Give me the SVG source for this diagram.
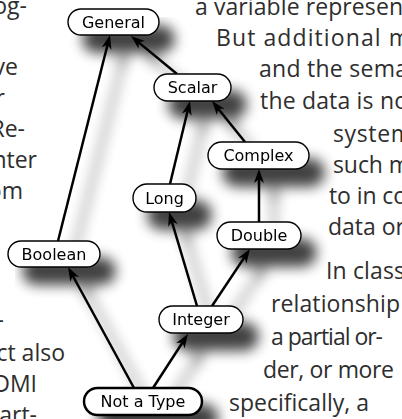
<svg xmlns="http://www.w3.org/2000/svg" width="402" height="419" viewBox="0 0 402 419">
  <defs>
    <style>
      .body { font-family: "Open Sans", "Noto Sans", sans-serif; font-size: 23px; fill: #2e2e2e; }
      .node rect { fill: #fff; stroke: #000; stroke-width: 1.4; }
      .node text { font-family: "DejaVu Sans", sans-serif; font-size: 16px; fill: #000; text-anchor: middle; }
      .edge { stroke: #000; stroke-width: 2.5; fill: none; marker-end: url(#arrow); }
    </style>
    <marker id="arrow" markerUnits="userSpaceOnUse" markerWidth="20" markerHeight="14" viewBox="-8 -7 20 14" refX="0" refY="0" orient="auto">
      <path d="M8,0 L-6,-5 L-2,0 L-6,5 Z" fill="#000"/>
    </marker>
    <filter id="shadow" filterUnits="userSpaceOnUse" x="0" y="0" width="402" height="419">
      <feGaussianBlur in="SourceAlpha" stdDeviation="6.5"/>
      <feOffset dx="15" dy="17"/>
      <feComponentTransfer><feFuncA type="linear" slope="0.75"/></feComponentTransfer>
      <feMerge><feMergeNode/><feMergeNode in="SourceGraphic"/></feMerge>
    </filter>
  </defs>
  <rect width="402" height="419" fill="#fff"/>

  <!-- surrounding page text, left column -->
  <g class="body" text-anchor="end">
    <text x="27" y="14">og-</text>
    <text x="18" y="75">ve</text>
    <text x="5" y="106">r</text>
    <text x="25" y="137">Re-</text>
    <text x="37" y="168">nter</text>
    <text x="23" y="199">om</text>
    <text x="4" y="328">-</text>
    <text x="65" y="361">ct also</text>
    <text x="37" y="392">DMI</text>
    <text x="37" y="423">part-</text>
  </g>

  <!-- surrounding page text, right column -->
  <g class="body" lengthAdjust="spacing">
    <text x="195" y="15" textLength="208">a variable represen</text>
    <text x="216" y="46" textLength="194">But additional m</text>
    <text x="259" y="77" textLength="149">and the sema</text>
    <text x="260" y="109" textLength="148">the data is no</text>
    <text x="333" y="142" textLength="79">system</text>
    <text x="333" y="173" textLength="77">such m</text>
    <text x="329" y="204" textLength="78">to in co</text>
    <text x="328" y="235" textLength="77">data or</text>
    <text x="326" y="279" textLength="79">In class</text>
    <text x="271" y="312" textLength="129">relationship</text>
    <text x="271" y="345" textLength="112">a partial or-</text>
    <text x="263" y="378" textLength="131">der, or more</text>
    <text x="229" y="411" textLength="140">specifically, a</text>
  </g>

  <!-- type lattice -->
  <g filter="url(#shadow)">
    <g id="connectors">
      <line class="edge" x1="58" y1="241" x2="108.04" y2="42.76"/>
      <line class="edge" x1="177" y1="74" x2="137.17" y2="41.09"/>
      <line class="edge" x1="170" y1="184" x2="188.13" y2="108.78"/>
      <line class="edge" x1="245" y1="142" x2="217.02" y2="107.23"/>
      <line class="edge" x1="259" y1="222" x2="259" y2="177"/>
      <line class="edge" x1="197" y1="306" x2="171.28" y2="219.67"/>
      <line class="edge" x1="212" y1="306" x2="245.56" y2="255.66"/>
      <line class="edge" x1="134" y1="388" x2="71.83" y2="274.02"/>
      <line class="edge" x1="153" y1="388" x2="183.65" y2="340.71"/>
    </g>

    <g id="general" class="node">
      <rect x="68" y="9" width="91" height="26" rx="13"/>
      <text x="113.5" y="27.8">General</text>
    </g>
    <g id="scalar" class="node">
      <rect x="154" y="74" width="77" height="27" rx="13.5"/>
      <text x="192.5" y="93.3">Scalar</text>
    </g>
    <g id="complex" class="node">
      <rect x="208" y="142" width="101" height="27" rx="13.5"/>
      <text x="258.5" y="161.3">Complex</text>
    </g>
    <g id="long" class="node">
      <rect x="133" y="184" width="63" height="28" rx="14"/>
      <text x="164.5" y="203.8">Long</text>
    </g>
    <g id="double" class="node">
      <rect x="217" y="222" width="84" height="27" rx="13.5"/>
      <text x="259" y="241.3">Double</text>
    </g>
    <g id="boolean" class="node">
      <rect x="8" y="241" width="92" height="26" rx="13"/>
      <text x="54" y="259.8">Boolean</text>
    </g>
    <g id="integer" class="node">
      <rect x="159" y="306" width="84" height="27" rx="13.5"/>
      <text x="201" y="325.3">Integer</text>
    </g>
    <g id="not-a-type" class="node">
      <rect x="84" y="388" width="118" height="27" rx="13.5" style="stroke-width:2.5"/>
      <text x="143" y="407.3">Not a Type</text>
    </g>
  </g>
</svg>
